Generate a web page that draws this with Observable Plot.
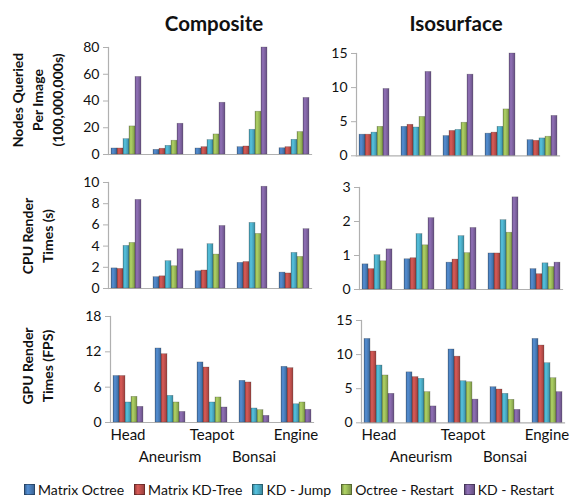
<!DOCTYPE html>
<html><head><meta charset="utf-8">
<script src="https://cdn.jsdelivr.net/npm/d3@7"></script>
<script src="https://cdn.jsdelivr.net/npm/@observablehq/plot@0.6"></script>
<style>
body{margin:0;background:#fff;}
#root{position:relative;width:571px;height:497px;font-family:Lato,"Open Sans",sans-serif;overflow:hidden;color:#111;}
.abs{position:absolute;}
.title{font-weight:bold;font-size:20.5px;transform:translate(-50%,-50%);white-space:nowrap;}
.rowlab{font-weight:bold;font-size:14px;line-height:20px;text-align:center;white-space:nowrap;transform:translate(-50%,-50%) rotate(-90deg);}
#legend{display:flex;align-items:center;font-size:14px;white-space:nowrap;}
.li{display:flex;align-items:center;margin-right:10px;}
.li:last-child{margin-right:0;}
.sw{width:9px;height:9px;margin-right:3px;border:0.5px solid rgba(0,0,0,0.35);}
svg.panel{position:absolute;overflow:visible;}
</style></head><body>
<svg width="0" height="0" style="position:absolute"><defs id="grads"></defs></svg>
<div id="root"></div>
<script>
const datasets = ["Head","Aneurism","Teapot","Bonsai","Engine"];
const methods = ["Matrix Octree","Matrix KD-Tree","KD - Jump","Octree - Restart","KD - Restart"];
const colors = ["#4a7ebb","#c0504d","#4bacc6","#9bbb59","#8064a2"];
const colTitles = ["Composite","Isosurface"];
const rowLabels = [["Nodes Queried","Per Image","(100,000,000s)"],["CPU Render","Times (s)"],["GPU Render","Times (FPS)"]];
const topLabels = ["Head","Teapot","Engine"];
const lowLabels = ["Aneurism","Bonsai"];

// rows: dataset, columns: method
const compositeNodes = [[4.5,4.5,11.5,21,58],[3.5,4.3,6.5,10.3,23],[4.5,5.5,10.8,15,38.7],[5.5,6,18.5,32,80],[4.7,5.5,11,16.8,42.3]];
const isoNodes = [[3.1,3.1,3.4,4.25,9.8],[4.25,4.55,4.15,5.7,12.3],[2.9,3.65,3.8,4.85,11.9],[3.25,3.4,4.25,6.8,15],[2.3,2.2,2.55,2.8,5.85]];
const compositeCPU = [[1.9,1.85,4.02,4.3,8.36],[1.07,1.15,2.58,2.1,3.7],[1.63,1.7,4.18,3.2,5.9],[2.42,2.5,6.19,5.15,9.6],[1.5,1.42,3.36,2.98,5.6]];
const isoCPU = [[0.74,0.6,1.01,0.83,1.18],[0.89,0.92,1.63,1.3,2.1],[0.79,0.88,1.57,1.07,1.81],[1.06,1.06,2.04,1.67,2.71],[0.6,0.45,0.77,0.66,0.79]];
const compositeGPU = [[7.9,7.9,3.4,4.36,2.66],[12.57,11.6,4.53,3.4,1.8],[10.2,9.34,3.4,4.25,2.55],[7.08,6.8,2.38,2.1,1.13],[9.46,9.23,3.1,3.4,2.16]];
const isoGPU = [[12.3,10.45,8.4,6.94,4.25],[7.4,6.7,6.45,4.5,2.4],[10.75,9.7,6.1,5.95,3.4],[5.22,4.88,4.25,3.37,1.9],[12.3,11.33,8.74,6.54,4.5]];

const ticksCompNodes = [0,20,40,60,80];
const ticksIsoNodes = [0,5,10,15];
const ticksCompCPU = [0,2,4,6,8,10];
const ticksIsoCPU = [0,1,2,3];
const ticksCompGPU = [0,6,12,18];
const ticksIsoGPU = [0,5,10,15];

// gradients
const defs = document.getElementById("grads");
const gradUrls = colors.map((c,i)=>{
  const base = d3.color(c), dark = d3.color(c).darker(0.6), light = d3.color(c).brighter(0.35);
  const g = document.createElementNS("http://www.w3.org/2000/svg","linearGradient");
  g.setAttribute("id","g"+i); g.setAttribute("x1","0"); g.setAttribute("x2","1"); g.setAttribute("y1","0"); g.setAttribute("y2","0");
  [[0,dark],[0.3,light],[0.6,base],[1,dark]].forEach(([o,col])=>{
    const s = document.createElementNS("http://www.w3.org/2000/svg","stop");
    s.setAttribute("offset",o); s.setAttribute("stop-color",col.formatHex()); g.appendChild(s);
  });
  defs.appendChild(g);
  return `url(#g${i})`;
});

const root = document.getElementById("root");

const panels = [
  {vals:compositeNodes, ticks:ticksCompNodes, x0:106, x1:314, yTop:47, yBot:154},
  {vals:isoNodes, ticks:ticksIsoNodes, x0:354, x1:562, yTop:52.7, yBot:155},
  {vals:compositeCPU, ticks:ticksCompCPU, x0:106, x1:314, yTop:182.3, yBot:288.3},
  {vals:isoCPU, ticks:ticksIsoCPU, x0:358, x1:563, yTop:187.3, yBot:289.3},
  {vals:compositeGPU, ticks:ticksCompGPU, x0:110, x1:314, yTop:315.7, yBot:421.7, labels:true},
  {vals:isoGPU, ticks:ticksIsoGPU, x0:360, x1:566, yTop:320, yBot:422.3, labels:true}
];

panels.forEach(p=>{
  const data = [];
  datasets.forEach((d,i)=>methods.forEach((m,j)=>data.push({dataset:d, method:m, value:p.vals[i][j]})));
  const mL=40, mR=6, mT=8, mB = p.labels ? 50 : 4;
  const marks = [
    Plot.frame({anchor:"bottom", facet:"super", stroke:"#b0b0b0", strokeWidth:1.2}),
    Plot.frame({anchor:"left", facet:"super", stroke:"#b0b0b0", strokeWidth:1.2}),
    Plot.barY(data, {fx:"dataset", x:"method", y:"value", fill:"method", stroke:"rgba(40,40,40,0.35)", strokeWidth:0.6}),
    Plot.axisY({ticks:p.ticks, tickFormat:d=>String(d), label:null, tickSize:5, tickPadding:4, color:"#111", stroke:"#b0b0b0", fontSize:14})
  ];
  if (p.labels) {
    marks.push(Plot.text(topLabels, {fx:d=>d, text:d=>d, frameAnchor:"bottom", dy:17, fontSize:15, fill:"#111"}));
    marks.push(Plot.text(lowLabels, {fx:d=>d, text:d=>d, frameAnchor:"bottom", dy:39, fontSize:15, fill:"#111"}));
  }
  const chart = Plot.plot({
    width: mL + (p.x1-p.x0) + mR,
    height: mT + (p.yBot-p.yTop) + mB,
    marginLeft:mL, marginRight:mR, marginTop:mT, marginBottom:mB,
    style:{fontFamily:"Lato, 'Open Sans', sans-serif", fontSize:"14px", background:"transparent", overflow:"visible"},
    fx:{domain:datasets, paddingInner:0.16, paddingOuter:0, axis:null, label:null},
    x:{domain:methods, paddingInner:0.08, paddingOuter:0.25, axis:null},
    y:{domain:[0, p.ticks[p.ticks.length-1]], axis:null},
    color:{domain:methods, range:gradUrls},
    marks
  });
  chart.classList.add("panel");
  chart.style.left = (p.x0 - mL) + "px";
  chart.style.top = (p.yTop - mT) + "px";
  root.appendChild(chart);
});

// titles
[[colTitles[0],214,23],[colTitles[1],456,23]].forEach(([t,x,y])=>{
  const d = document.createElement("div"); d.className="abs title"; d.textContent=t;
  d.style.left=x+"px"; d.style.top=y+"px"; root.appendChild(d);
});
// row labels
[[rowLabels[0],100],[rowLabels[1],236],[rowLabels[2],366]].forEach(([lines,y])=>{
  const d = document.createElement("div"); d.className="abs rowlab"; d.innerHTML=lines.join("<br>");
  d.style.left="37.5px"; d.style.top=y+"px"; root.appendChild(d);
});
// legend
const lg = document.createElement("div"); lg.id="legend"; lg.className="abs";
lg.style.left="24px"; lg.style.top="481px";
methods.forEach((m,i)=>{
  const it = document.createElement("div"); it.className="li";
  const sw = document.createElement("div"); sw.className="sw";
  const c = colors[i];
  sw.style.background = `linear-gradient(to right, ${d3.color(c).darker(0.6)}, ${d3.color(c).brighter(0.35)} 30%, ${c} 60%, ${d3.color(c).darker(0.6)})`;
  const tx = document.createElement("span"); tx.textContent=m;
  it.appendChild(sw); it.appendChild(tx); lg.appendChild(it);
});
root.appendChild(lg);
</script>
</body></html>
